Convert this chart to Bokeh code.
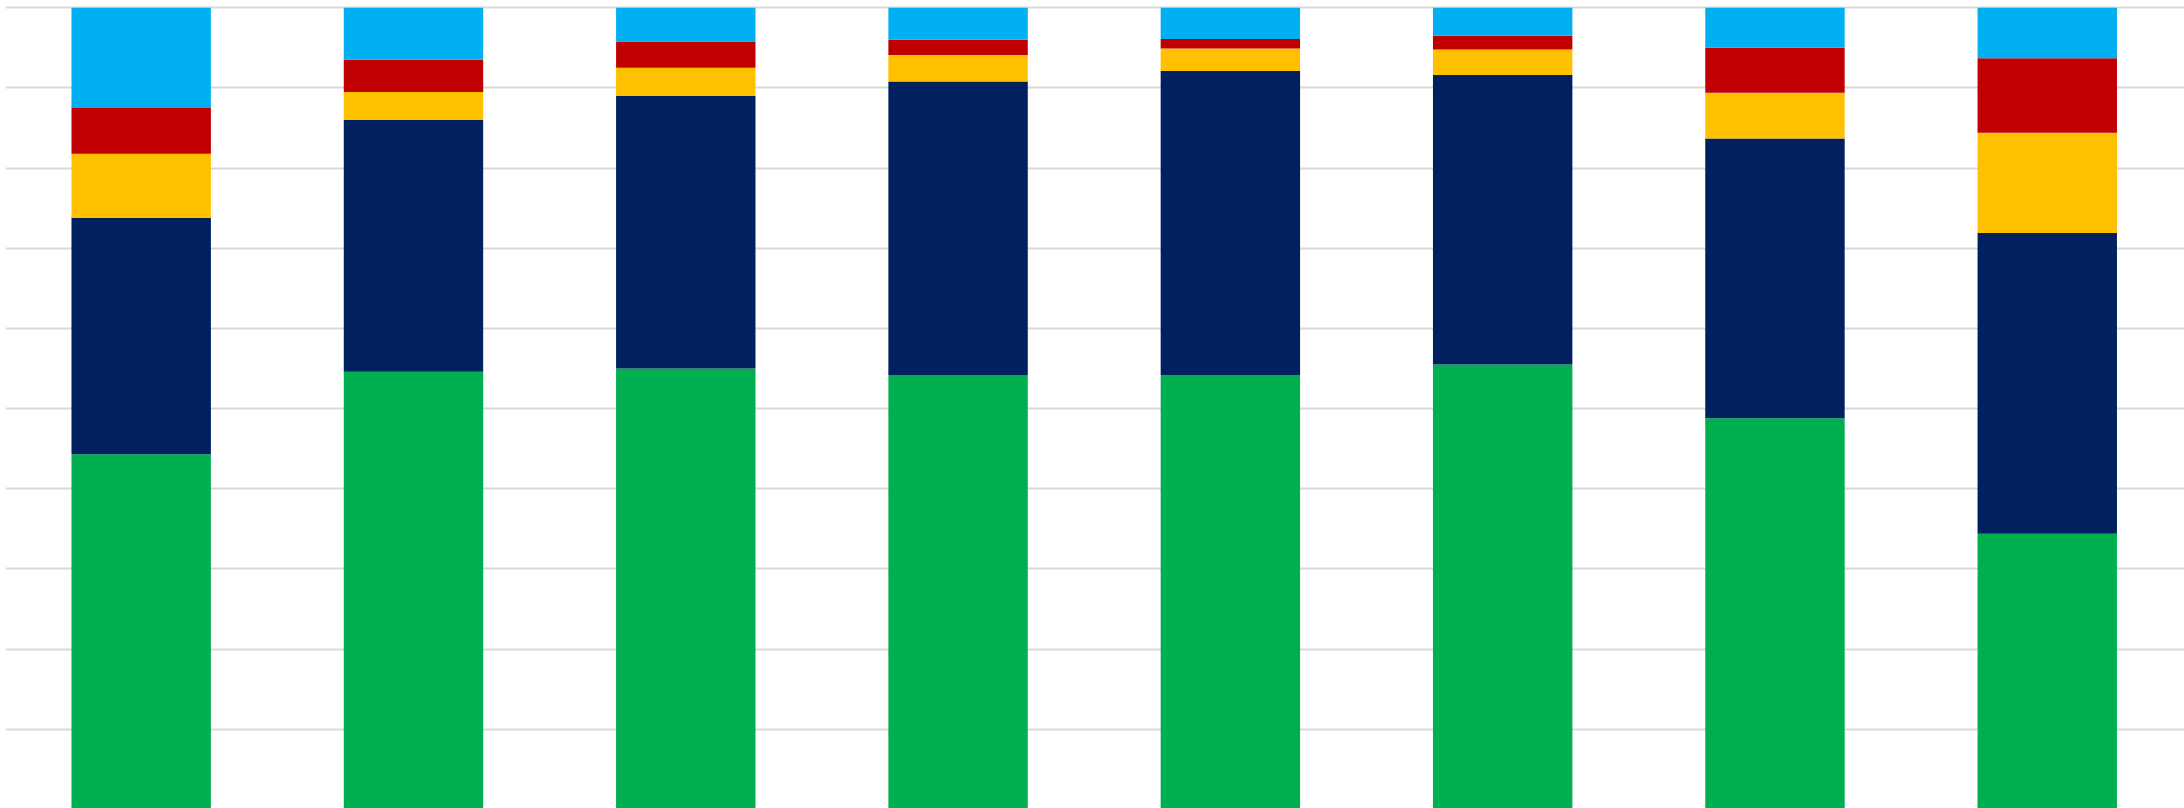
from bokeh.plotting import figure
from bokeh.models import ColumnDataSource, Range1d, FixedTicker
from bokeh.embed import file_html
from bokeh.resources import INLINE

categories = ["C1", "C2", "C3", "C4", "C5", "C6", "C7", "C8"]
green = [44.3, 54.6, 55.0, 54.2, 54.2, 55.5, 48.8, 34.4]
navy = [29.5, 31.4, 34.0, 36.6, 37.9, 36.1, 34.9, 37.5]
yellow = [8.0, 3.5, 3.5, 3.3, 2.8, 3.2, 5.7, 12.5]
red = [5.7, 4.0, 3.3, 1.9, 1.2, 1.7, 5.6, 9.3]
blue = [12.5, 6.5, 4.2, 4.0, 3.9, 3.5, 5.0, 6.3]

series = ["green", "navy", "yellow", "red", "blue"]
colors = ["#00B050", "#002060", "#FFC000", "#C00000", "#00B0F0"]

x = list(range(len(categories)))
source = ColumnDataSource(dict(x=x, green=green, navy=navy, yellow=yellow, red=red, blue=blue))

p = figure(width=2184, height=808, output_backend="svg", toolbar_location=None,
           x_range=Range1d(-0.4983, 7.504), y_range=Range1d(0.12, 100.9),
           min_border=0, min_border_left=5, outline_line_color=None)

p.vbar_stack(series, x="x", width=0.512, color=colors, line_color=None, source=source)

p.xaxis.visible = False
p.yaxis.visible = False
p.xgrid.grid_line_color = None
p.ygrid.ticker = FixedTicker(ticks=[0, 10, 20, 30, 40, 50, 60, 70, 80, 90, 100])
p.ygrid.grid_line_color = "#D9D9D9"
p.ygrid.grid_line_width = 1.8
p.background_fill_color = "white"
p.border_fill_color = "white"

open("out.html", "w").write(file_html(p, INLINE))
